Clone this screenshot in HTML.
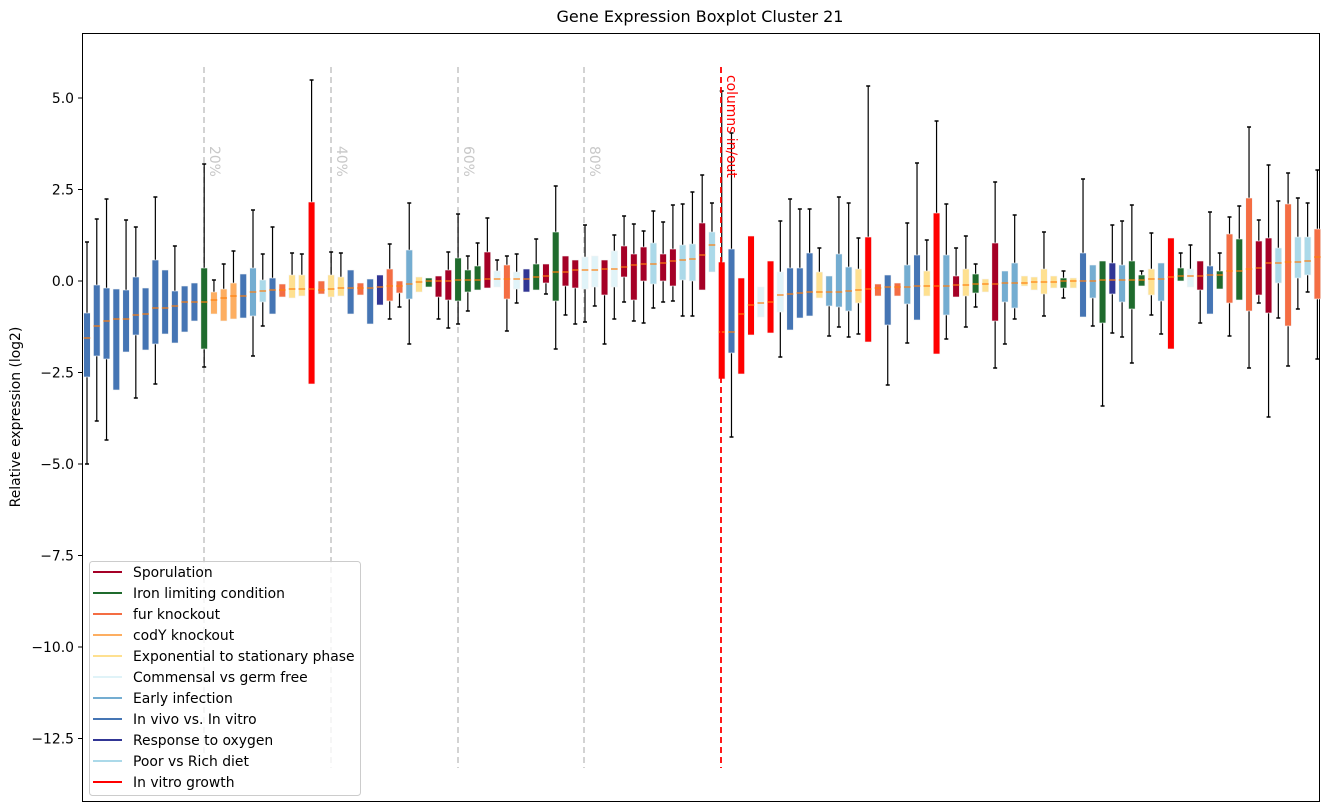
<!DOCTYPE html>
<html><head><meta charset="utf-8"><style>
body{margin:0;background:#fff;}
svg{display:block;font-family:"DejaVu Sans","Liberation Sans",sans-serif;}
</style></head><body>
<svg id="s" width="1331" height="812" xmlns="http://www.w3.org/2000/svg"></svg>
<script>
const C={S:"#a50026",G:"#1f6b2d",F:"#f46d43",O:"#fdae61",Y:"#fee090",P:"#e0f3f8",E:"#74add1",B:"#4575b4",D:"#313695",L:"#abd9e9",R:"#ff0000"};
const d=[
["B",313,377,338,242,464],["B",285,356,326,219,421],["B",288,359,321,199,440],["B",289,390,319],["B",290,352,319,220],
["B",277,335,315,227,398],["B",288,350,314],["B",260,344,308,197,384],["B",270,334,308],["B",291,343,306,246],
["B",286,332,302],["B",283,321,302],["G",268,349,302,164,367],["O",292,314,300,280],["O",289,321,298,264],
["O",283,319,296,251],["B",274,318,296],["E",268,316,292,210,356],["L",280,302,291,254,326],["B",278,314,290,227],
["F",284,297,290],["Y",275,298,289,253],["Y",275,296,289,254],["R",202,384,289,80],["F",281,294,290],
["Y",275,297,289,252],["Y",277,296,288,253],["B",270,314,288],["F",283,295,288],["B",279,324,288],
["D",275,305,287],["F",269,301,286,244,319],["F",281,293,286,null,307],["E",250,299,284,203,344],["Y",277,292,282],
["G",278,287,281],["S",276,297,281,null,319],["S",270,300,281,252,328],["G",258,301,280,214,324],["G",270,292,280,256,311],
["G",266,290,280,243],["S",252,288,279,218],["P",271,287,279,260],["F",265,299,279,256,331],["P",272,289,279,254,303],
["D",269,292,279],["G",264,290,277,239],["S",264,283,276,null,294],["G",232,301,272,186,349],["S",256,286,272,null,315],
["S",260,288,270,null,324],["P",257,289,270,225,322],["P",256,287,270,null,306],["S",260,295,269,null,344],["P",251,287,269,235,319],
["S",246,277,267,216,302],["S",254,300,265,224,321],["S",247,281,264,231,323],["L",243,284,264,211,308],["S",254,281,263,222,302],
["S",249,286,261,205,301],["L",245,280,260,204,316],["L",244,281,259,192,316],["S",223,290,255,175],["L",232,272,245,203],
["R",262,379,332,91],["B",249,353,332,133,437],["R",278,374,314],["R",236,335,305],["P",287,317,303],
["R",261,333,302],["P",272,312,295,221,357],["B",268,330,294,199],["B",268,318,293,209],["B",253,316,292,209],
["Y",272,298,292,248],["E",276,306,292,null,336],["E",254,307,292,197,327],["E",267,311,291,203,337],["Y",269,303,290,238,334],
["R",237,342,289,86],["F",284,296,288],["B",275,325,287,null,385],["F",283,296,287],["E",265,304,287,223,343],
["B",255,320,286,163],["Y",271,296,286,240],["R",213,354,286,121],["E",255,315,286,204,339],["S",276,297,285,248],
["Y",269,296,285,236,327],["G",274,293,284,264,307],["Y",279,292,284],["S",243,321,284,182,368],["E",271,302,283,null,344],
["E",263,308,283,215,319],["Y",276,286,283],["Y",277,290,282],["Y",269,294,282,232,316],["Y",276,288,282],
["G",278,288,281,271,298],["Y",278,288,281],["B",253,317,281,179],["E",265,298,281,null,326],["G",261,323,280,null,406],
["D",263,294,280,225,333],["E",265,302,280,221,337],["G",261,309,280,205,363],["G",275,286,280,271],["Y",269,295,279,233,315],
["E",263,301,279,null,334],["R",238,349,277],["G",268,281,276,253],["P",269,287,276,245],["S",261,290,276,null,323],
["B",266,314,275,212],["G",271,289,275,253],["F",234,303,271,217,336],["G",239,300,271,206],["F",198,311,269,127,368],
["S",241,295,268,220,303],["S",238,313,263,165,417],["L",248,283,263,201,318],["F",204,326,262,173,366],["L",237,278,262,198,309],
["L",237,275,261,203,292],["F",229,299,257,170,359]];
let h='';
h+='<rect x="82.5" y="33.5" width="1237" height="768" fill="none" stroke="#000" stroke-width="1"/>';
const ticks=[[98,"5.0"],[189.5,"2.5"],[281,"0.0"],[372.5,"\u22122.5"],[464,"\u22125.0"],[555.5,"\u22127.5"],[647,"\u221210.0"],[738.5,"\u221212.5"]];
for(const[t,l]of ticks){h+=`<line x1="78" y1="${t}" x2="82" y2="${t}" stroke="#000"/><text x="74" y="${t+5}" font-size="13.9" text-anchor="end">${l}</text>`;}
h+='<text x="0" y="0" font-size="13.9" text-anchor="middle" transform="translate(20,417) rotate(-90)">Relative expression (log2)</text>';
h+='<text x="700" y="22" font-size="16" text-anchor="middle">Gene Expression Boxplot Cluster 21</text>';
[[204,"20%"],[331,"40%"],[458,"60%"],[584,"80%"]].forEach(([x,l])=>{
h+=`<line x1="${x}" y1="67" x2="${x}" y2="768" stroke="#c8c8c8" stroke-width="1.6" stroke-dasharray="6,4"/>`;
h+=`<text x="0" y="0" font-size="13.9" fill="#c8c8c8" transform="translate(${x+6},146) rotate(90)">${l}</text>`;});
d.forEach((b,i)=>{const x=87+9.765*i;const[c,t,bt,m,wt,wb]=b;
if(wt!=null)h+=`<line x1="${x}" y1="${wt}" x2="${x}" y2="${t}" stroke="#000" stroke-width="1.2"/><line x1="${x-2}" y1="${wt}" x2="${x+2}" y2="${wt}" stroke="#000" stroke-width="1.5"/>`;
if(wb!=null)h+=`<line x1="${x}" y1="${bt}" x2="${x}" y2="${wb}" stroke="#000" stroke-width="1.2"/><line x1="${x-2}" y1="${wb}" x2="${x+2}" y2="${wb}" stroke="#000" stroke-width="1.5"/>`;
h+=`<rect x="${x-3.3}" y="${t}" width="6.6" height="${bt-t}" fill="${C[c]}" stroke="#f4f4f4" stroke-width="0.6"/>`;
h+=`<line x1="${x-3.3}" y1="${m}" x2="${x+3.3}" y2="${m}" stroke="#ff7f0e" stroke-width="1.2"/>`;});
h+='<line x1="721" y1="67" x2="721" y2="768" stroke="#ff0000" stroke-width="1.8" stroke-dasharray="6,4"/>';
h+='<text x="0" y="0" font-size="13.9" fill="#ff0000" transform="translate(727,75) rotate(90)">columns in/out</text>';
h+='<rect x="89.5" y="561.5" width="271" height="234" rx="3" fill="#fff" fill-opacity="0.8" stroke="#ccc"/>';
const lg=[["S","Sporulation"],["G","Iron limiting condition"],["F","fur knockout"],["O","codY knockout"],["Y","Exponential to stationary phase"],["P","Commensal vs germ free"],["E","Early infection"],["B","In vivo vs. In vitro"],["D","Response to oxygen"],["L","Poor vs Rich diet"],["R","In vitro growth"]];
lg.forEach(([c,l],i)=>{const y=572+21*i;h+=`<line x1="93" y1="${y}" x2="122" y2="${y}" stroke="${C[c]}" stroke-width="2"/><text x="133" y="${y+5}" font-size="13.9">${l}</text>`;});
document.getElementById('s').innerHTML=h;
</script>
</body></html>
